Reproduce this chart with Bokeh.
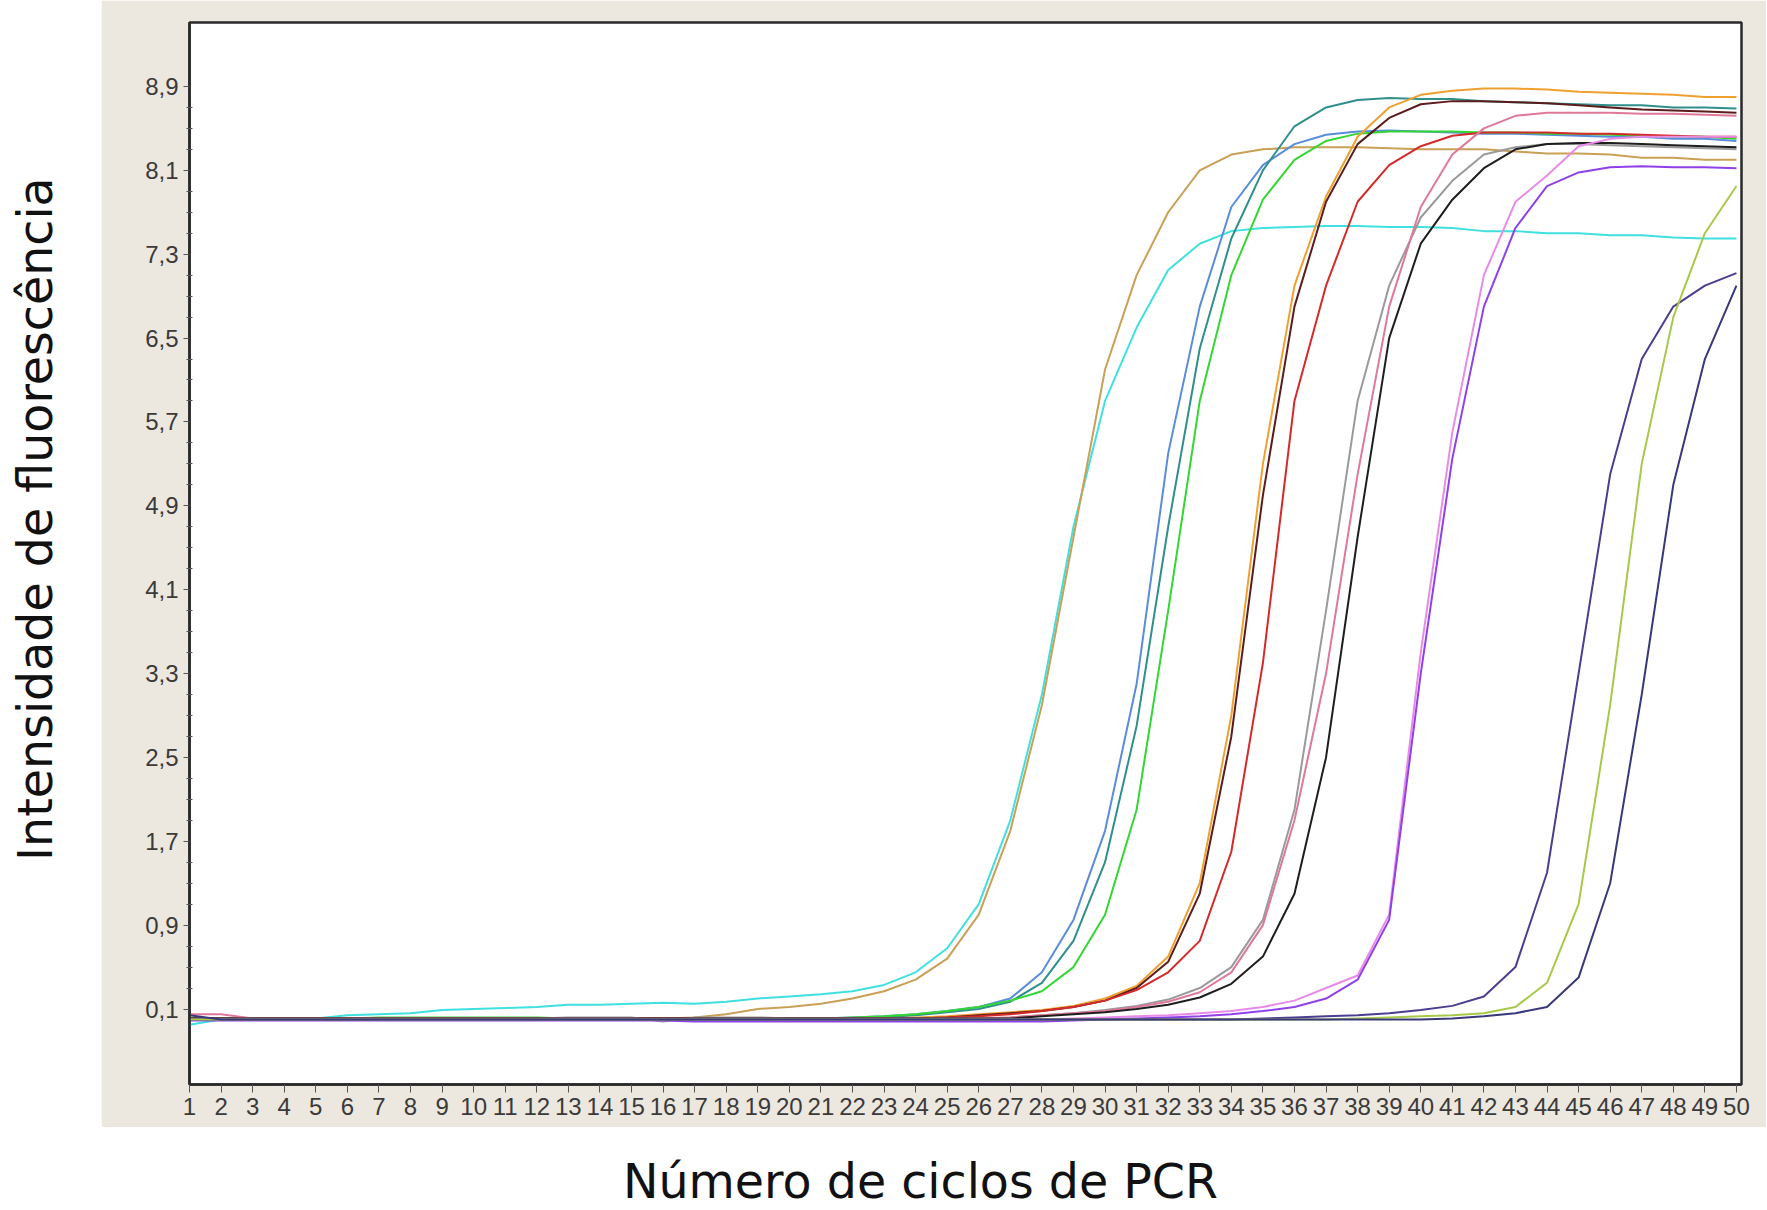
from bokeh.plotting import figure
from bokeh.models import FixedTicker, Range1d, CustomJSTickFormatter
from bokeh.layouts import column, row
from bokeh.embed import file_html
from bokeh.resources import INLINE
from bokeh.core.properties import value
import math

# ---------------- data ----------------
cycles = list(range(1, 51))

y_major_ticks = [0.1, 0.9, 1.7, 2.5, 3.3, 4.1, 4.9, 5.7, 6.5, 7.3, 8.1, 8.9]
y_minor_ticks = [0.3, 0.5, 0.7, 1.1, 1.3, 1.5, 1.9, 2.1, 2.3, 2.7, 2.9, 3.1,
                 3.5, 3.7, 3.9, 4.3, 4.5, 4.7, 5.1, 5.3, 5.5, 5.9, 6.1, 6.3,
                 6.7, 6.9, 7.1, 7.5, 7.7, 7.9, 8.3, 8.5, 8.7]

cyan = [-0.05, 0.0, 0.0, 0.0, 0.01, 0.04, 0.05, 0.06, 0.09, 0.1,
        0.11, 0.12, 0.14, 0.14, 0.15, 0.16, 0.15, 0.17, 0.2, 0.22,
        0.24, 0.27, 0.33, 0.45, 0.68, 1.1, 1.9, 3.1, 4.7, 5.9,
        6.6, 7.15, 7.4, 7.52, 7.55, 7.56, 7.57, 7.57, 7.56, 7.56,
        7.55, 7.52, 7.52, 7.5, 7.5, 7.48, 7.48, 7.46, 7.45, 7.45]

tan = [0.01, 0.01, 0.01, 0.01, 0.01, 0.01, 0.01, 0.01, 0.01, 0.01,
       0.01, 0.01, 0.01, 0.01, 0.01, 0.01, 0.02, 0.05, 0.1, 0.12,
       0.15, 0.2, 0.27, 0.38, 0.58, 1.0, 1.8, 3.0, 4.6, 6.2,
       7.1, 7.7, 8.1, 8.25, 8.3, 8.32, 8.32, 8.32, 8.31, 8.3,
       8.3, 8.3, 8.28, 8.26, 8.26, 8.25, 8.22, 8.22, 8.2, 8.2]

blue = [0.01, 0.01, 0.01, 0.01, 0.01, 0.01, 0.01, 0.01, 0.01, 0.01,
        0.01, 0.01, 0.01, 0.01, 0.01, 0.01, 0.01, 0.01, 0.01, 0.01,
        0.01, 0.02, 0.03, 0.05, 0.08, 0.12, 0.2, 0.45, 0.95, 1.8,
        3.2, 5.4, 6.8, 7.75, 8.15, 8.35, 8.44, 8.47, 8.48, 8.47,
        8.46, 8.45, 8.45, 8.44, 8.43, 8.42, 8.42, 8.4, 8.4, 8.38]

teal = [0.01, 0.01, 0.01, 0.01, 0.01, 0.01, 0.01, 0.01, 0.01, 0.01,
        0.01, 0.01, 0.01, 0.01, 0.01, 0.01, 0.01, 0.01, 0.01, 0.01,
        0.01, 0.01, 0.02, 0.04, 0.07, 0.1, 0.17, 0.35, 0.75, 1.5,
        2.8, 4.7, 6.4, 7.45, 8.1, 8.52, 8.7, 8.77, 8.79, 8.78,
        8.78, 8.76, 8.75, 8.74, 8.73, 8.72, 8.72, 8.7, 8.7, 8.69]

green = [0.01, 0.01, 0.01, 0.01, 0.01, 0.01, 0.02, 0.02, 0.02, 0.02,
         0.02, 0.02, 0.01, 0.01, 0.01, 0.01, 0.01, 0.01, 0.01, 0.01,
         0.01, 0.02, 0.03, 0.05, 0.08, 0.12, 0.18, 0.27, 0.5, 1.0,
         2.0, 3.9, 5.9, 7.1, 7.82, 8.2, 8.38, 8.45, 8.47, 8.47,
         8.47, 8.46, 8.46, 8.45, 8.45, 8.44, 8.43, 8.42, 8.42, 8.4]

orange = [0.01, 0.01, 0.01, 0.01, 0.01, 0.01, 0.01, 0.01, 0.01, 0.01,
          0.01, 0.01, 0.01, 0.01, 0.01, 0.01, 0.01, 0.01, 0.01, 0.01,
          0.01, 0.01, 0.01, 0.02, 0.03, 0.05, 0.07, 0.09, 0.13, 0.2,
          0.32, 0.6, 1.3, 2.9, 5.3, 7.0, 7.85, 8.42, 8.7, 8.82,
          8.86, 8.88, 8.88, 8.87, 8.85, 8.84, 8.83, 8.82, 8.8, 8.8]

maroon = [0.01, 0.01, 0.01, 0.01, 0.01, 0.01, 0.01, 0.01, 0.01, 0.01,
          0.01, 0.01, 0.01, 0.01, 0.01, 0.01, 0.01, 0.01, 0.01, 0.01,
          0.01, 0.01, 0.01, 0.01, 0.02, 0.04, 0.06, 0.08, 0.12, 0.18,
          0.3, 0.55, 1.2, 2.7, 5.0, 6.8, 7.8, 8.35, 8.6, 8.73,
          8.76, 8.76, 8.75, 8.74, 8.72, 8.7, 8.68, 8.67, 8.66, 8.65]

red = [0.01, 0.01, 0.01, 0.01, 0.01, 0.01, 0.01, 0.01, 0.01, 0.01,
       0.01, 0.01, 0.01, 0.01, 0.01, 0.01, 0.01, 0.01, 0.01, 0.01,
       0.01, 0.01, 0.01, 0.01, 0.02, 0.03, 0.05, 0.08, 0.12, 0.18,
       0.28, 0.45, 0.75, 1.6, 3.4, 5.9, 7.0, 7.8, 8.15, 8.33,
       8.43, 8.46, 8.46, 8.46, 8.45, 8.45, 8.44, 8.43, 8.42, 8.42]

gray = [0.01, 0.01, 0.01, 0.01, 0.01, 0.01, 0.01, 0.01, 0.01, 0.01,
        0.01, 0.01, 0.02, 0.02, 0.02, -0.02, 0.02, 0.02, 0.02, 0.01,
        0.01, 0.01, 0.01, 0.01, 0.01, 0.01, 0.02, 0.04, 0.06, 0.09,
        0.13, 0.19, 0.3, 0.5, 0.95, 2.0, 3.9, 5.9, 7.0, 7.65,
        8.0, 8.25, 8.32, 8.35, 8.35, 8.34, 8.33, 8.32, 8.31, 8.3]

pink = [0.05, 0.05, 0.01, 0.01, 0.01, 0.01, 0.01, 0.01, 0.01, 0.01,
        0.01, 0.01, 0.01, 0.01, 0.01, 0.01, 0.01, 0.01, 0.01, 0.01,
        0.01, 0.01, 0.01, 0.01, 0.01, 0.01, 0.02, 0.04, 0.06, 0.08,
        0.12, 0.17, 0.26, 0.45, 0.9, 1.9, 3.3, 5.2, 6.8, 7.75,
        8.25, 8.5, 8.62, 8.65, 8.65, 8.65, 8.64, 8.64, 8.63, 8.62]

black = [0.01, 0.01, 0.01, 0.01, 0.01, 0.01, 0.01, 0.01, 0.01, 0.01,
         0.01, 0.01, 0.01, 0.01, 0.01, 0.01, 0.01, 0.01, 0.01, 0.01,
         0.01, 0.01, 0.01, 0.01, 0.01, 0.01, 0.01, 0.03, 0.05, 0.07,
         0.1, 0.14, 0.21, 0.34, 0.6, 1.2, 2.5, 4.6, 6.5, 7.4,
         7.82, 8.12, 8.3, 8.35, 8.36, 8.36, 8.35, 8.34, 8.33, 8.32]

violet = [0.0, 0.0, 0.0, 0.0, 0.0, 0.0, 0.0, 0.0, 0.0, 0.0,
          0.0, 0.0, 0.0, 0.0, 0.0, 0.0, 0.0, 0.0, 0.0, 0.0,
          0.0, 0.0, 0.0, 0.0, 0.0, 0.0, 0.0, 0.0, 0.01, 0.02,
          0.03, 0.04, 0.06, 0.08, 0.12, 0.18, 0.3, 0.42, 1.0, 3.5,
          5.6, 7.1, 7.8, 8.05, 8.33, 8.4, 8.42, 8.42, 8.42, 8.42]

purple = [-0.01, -0.01, -0.01, -0.01, -0.01, -0.01, -0.01, -0.01, -0.01, -0.01,
          -0.01, -0.01, -0.01, -0.01, -0.01, -0.01, -0.02, -0.02, -0.02, -0.02,
          -0.02, -0.02, -0.02, -0.02, -0.02, -0.02, -0.02, -0.02, -0.01, 0.0,
          0.01, 0.02, 0.03, 0.05, 0.08, 0.12, 0.2, 0.38, 0.95, 3.3,
          5.35, 6.8, 7.55, 7.95, 8.08, 8.13, 8.14, 8.13, 8.13, 8.12]

slateblue = [0.0, 0.0, 0.0, 0.0, 0.0, 0.0, 0.0, 0.0, 0.0, 0.0,
             0.0, 0.0, 0.0, 0.0, 0.0, 0.0, 0.0, 0.0, 0.0, 0.0,
             0.0, 0.0, 0.0, 0.0, 0.0, 0.0, 0.0, 0.0, 0.0, 0.0,
             0.0, 0.0, 0.0, 0.0, 0.01, 0.02, 0.03, 0.04, 0.06, 0.09,
             0.13, 0.22, 0.5, 1.4, 3.3, 5.2, 6.3, 6.8, 7.0, 7.12]

yellowgreen = [0.0, 0.0, 0.0, 0.0, 0.0, 0.0, 0.0, 0.0, 0.0, 0.0,
               0.0, 0.0, 0.0, 0.0, 0.0, 0.0, 0.0, 0.0, 0.0, 0.0,
               0.0, 0.0, 0.0, 0.0, 0.0, 0.0, 0.0, 0.0, 0.0, 0.0,
               0.0, 0.0, 0.0, 0.0, 0.0, 0.0, 0.0, 0.01, 0.02, 0.03,
               0.04, 0.06, 0.12, 0.35, 1.1, 3.0, 5.3, 6.7, 7.5, 7.95]

navy = [0.04, 0.0, 0.0, 0.0, 0.0, 0.0, 0.0, 0.0, 0.0, 0.0,
        0.0, 0.0, 0.0, 0.0, 0.0, 0.0, 0.0, 0.0, 0.0, 0.0,
        0.0, 0.0, 0.0, 0.0, 0.0, 0.0, 0.0, 0.0, 0.0, 0.0,
        0.0, 0.0, 0.0, 0.0, 0.0, 0.0, 0.0, 0.0, 0.0, 0.0,
        0.01, 0.03, 0.06, 0.12, 0.4, 1.3, 3.1, 5.1, 6.3, 7.0]

series = [
    (cyan, "#40E0E0"), (tan, "#C9A055"), (blue, "#5A8CDC"), (teal, "#2F8F8C"),
    (green, "#33D633"), (orange, "#F0A030"), (maroon, "#5C1C1C"), (red, "#D42A2A"),
    (gray, "#9A9A9A"), (pink, "#E07898"), (black, "#1E1E1E"), (violet, "#E88AE8"),
    (purple, "#9040E8"), (slateblue, "#4B3D8F"), (yellowgreen, "#A8C84A"),
    (navy, "#38387A"),
]

x_title = "Número de ciclos de PCR"
y_title = "Intensidade de fluorescência"

BEIGE = "#ECE7DF"
AXIS = "#2A2A2A"
TICKLBL = "#3A3A3A"
TITLE_FONT = value("DejaVu Sans")

# ---------------- main plot ----------------
main = figure(width=1665, height=1127, output_backend="svg", toolbar_location=None,
              x_range=Range1d(1, 50.16), y_range=Range1d(-0.62, 9.51),
              min_border_left=88, min_border_right=25, min_border_top=22,
              min_border_bottom=43)
main.border_fill_color = BEIGE
main.background_fill_color = "white"
main.outline_line_color = AXIS
main.outline_line_width = 2.5
main.grid.visible = False

for vals, col in series:
    main.line(cycles, vals, line_color=col, line_width=2)

xa = main.xaxis[0]
xa.ticker = FixedTicker(ticks=cycles, minor_ticks=[])
xa.major_tick_out = 8
xa.major_tick_in = 0
xa.major_tick_line_color = "#555555"
xa.minor_tick_line_color = None
xa.axis_line_width = 2.5
xa.axis_line_color = AXIS
xa.major_label_text_font = "Liberation Sans"
xa.major_label_text_font_size = "24px"
xa.major_label_text_color = TICKLBL
xa.major_label_standoff = 5

ya = main.yaxis[0]
ya.ticker = FixedTicker(ticks=y_major_ticks, minor_ticks=y_minor_ticks)
ya.formatter = CustomJSTickFormatter(code="return tick.toFixed(1).replace('.', ',');")
ya.major_tick_out = 6
ya.major_tick_in = 0
ya.minor_tick_out = 3
ya.minor_tick_in = 3
ya.major_tick_line_color = "#555555"
ya.minor_tick_line_color = "#555555"
ya.axis_line_width = 2.5
ya.axis_line_color = AXIS
ya.major_label_text_font = "Liberation Sans"
ya.major_label_text_font_size = "24px"
ya.major_label_text_color = TICKLBL
ya.major_label_standoff = 5

# ---------------- y title panel ----------------
left = figure(width=101, height=1127, output_backend="svg", toolbar_location=None,
              title=None,
              x_range=Range1d(0, 101), y_range=Range1d(0, 1127),
              x_axis_location=None, y_axis_location=None,
              min_border=0, min_border_left=0, min_border_right=0,
              min_border_top=0, min_border_bottom=0)
left.outline_line_color = None
left.grid.visible = False
left.background_fill_color = "white"
left.border_fill_color = "white"
left.text(x=[35], y=[600], text=[y_title], angle=math.pi / 2,
          text_align="center", text_baseline="alphabetic",
          text_font=TITLE_FONT, text_font_size="47.5px", text_color="#111111")

# ---------------- x title panel ----------------
bottom = figure(width=1766, height=82, output_backend="svg", toolbar_location=None,
                title=None,
                x_range=Range1d(0, 1766), y_range=Range1d(0, 82),
                x_axis_location=None, y_axis_location=None,
                min_border=0, min_border_left=0, min_border_right=0,
                min_border_top=0, min_border_bottom=0)
bottom.outline_line_color = None
bottom.grid.visible = False
bottom.background_fill_color = "white"
bottom.border_fill_color = "white"
bottom.text(x=[920], y=[28], text=[x_title],
            text_align="center", text_baseline="alphabetic",
            text_font=TITLE_FONT, text_font_size="47.5px", text_color="#111111")

layout = column(row(left, main, spacing=0), bottom, spacing=0)

open("out.html", "w").write(file_html(layout, INLINE))
